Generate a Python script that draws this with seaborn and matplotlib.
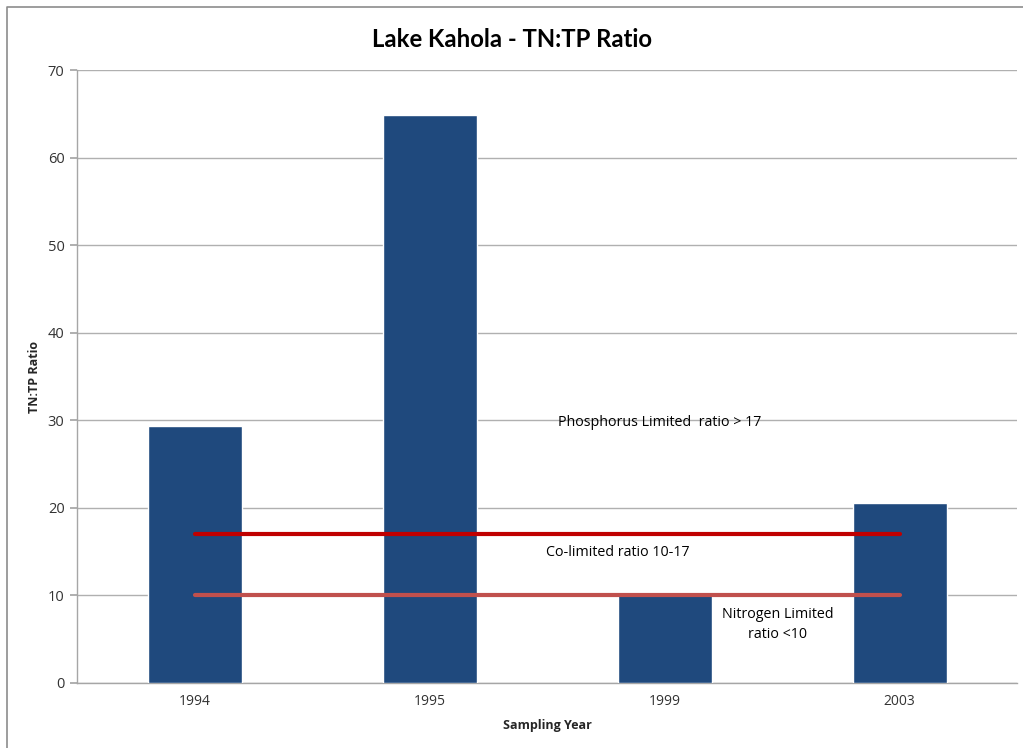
import matplotlib
import matplotlib.pyplot as plt
import pandas as pd
import seaborn as sns
from matplotlib.lines import Line2D

matplotlib.use("Agg")

years = ["1994", "1995", "1999", "2003"]
tn_tp_ratio = [29.3, 64.9, 10.2, 20.5]
p_limit = 17
n_limit = 10

df = pd.DataFrame({"year": years, "ratio": tn_tp_ratio})

sns.set_theme(style="white")
plt.rcParams["font.family"] = ["Open Sans", "DejaVu Sans"]

fig = plt.figure(figsize=(10.23, 7.48), dpi=100)
ax = fig.add_axes([0.0753, 0.0869, 0.919, 0.8195])

sns.barplot(data=df, x="year", y="ratio", color="#1F497D", width=0.4,
            saturation=1, ax=ax, zorder=3)

# threshold lines from first to last year
ax.plot([0, 3], [p_limit, p_limit], color="#C00000", lw=3, zorder=4)
ax.plot([0, 3], [n_limit, n_limit], color="#C0504D", lw=3, zorder=4)

ax.text(1.98, 29.8, "Phosphorus Limited  ratio > 17", ha="center", va="center",
        fontsize=10.3, color="black", zorder=5)
ax.text(1.80, 14.85, "Co-limited ratio 10-17", ha="center", va="center",
        fontsize=10.3, color="black", zorder=5)
ax.text(2.48, 6.7, "Nitrogen Limited\nratio <10", ha="center", va="center",
        fontsize=10.3, color="black", linespacing=1.5, zorder=5)

ax.set_xlim(-0.5, 3.5)
ax.set_ylim(0, 70)
ax.set_yticks(range(0, 71, 10))
ax.yaxis.grid(True, color="#B0B0B0", lw=1)
ax.set_axisbelow(True)
for side in ["top", "right"]:
    ax.spines[side].set_visible(False)
for side in ["left", "bottom"]:
    ax.spines[side].set_color("#A6A6A6")
    ax.spines[side].set_linewidth(1)
ax.tick_params(axis="y", left=True, length=5, color="#A6A6A6", labelsize=10.5,
               labelcolor="#333333", pad=4)
ax.tick_params(axis="x", bottom=False, labelsize=10, labelcolor="#333333", pad=2)

ax.set_xlabel("Sampling Year", fontsize=9, fontweight="bold", labelpad=7)
ax.set_ylabel("TN:TP Ratio", fontsize=9, fontweight="bold", labelpad=5)
fig.suptitle("Lake Kahola - TN:TP Ratio", fontsize=17.2, fontweight="bold",
             color="black", y=0.962, family=["Lato", "DejaVu Sans"])

# chart frame: left and top edges only
fig.lines.append(Line2D([0.007, 0.007, 1.0], [0.0, 0.991, 0.991],
                        transform=fig.transFigure, color="#8C8C8C", lw=1.2))

fig.savefig("out.png", dpi=100)
